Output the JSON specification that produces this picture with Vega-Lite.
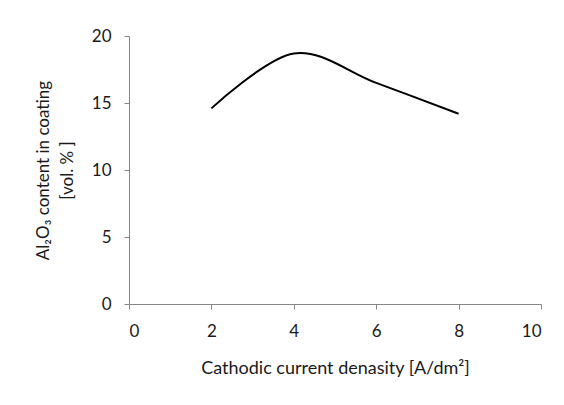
{
  "$schema": "https://vega.github.io/schema/vega-lite/v6.json",
  "width": 412,
  "height": 268,
  "autosize": {"type": "none"},
  "padding": {"left": 129, "top": 36, "right": 23, "bottom": 101},
  "background": "white",
  "config": {
    "view": {"stroke": null},
    "font": "Lato",
    "axis": {
      "grid": false,
      "domainColor": "#868686",
      "tickColor": "#868686",
      "tickSize": 5,
      "labelFont": "Lato",
      "labelFontSize": 17,
      "labelColor": "#1a1a1a",
      "titleFont": "Lato",
      "titleFontSize": 16,
      "titleFontWeight": "normal",
      "titleColor": "#1a1a1a"
    }
  },
  "data": {
    "values": [
      {"x": 2, "y": 14.6},
      {"x": 4, "y": 18.7},
      {"x": 6, "y": 16.5},
      {"x": 8, "y": 14.2}
    ]
  },
  "mark": {"type": "line", "color": "#000000", "strokeWidth": 2, "interpolate": "cardinal"},
  "encoding": {
    "x": {
      "field": "x",
      "type": "quantitative",
      "scale": {"domain": [0, 10], "nice": false},
      "axis": {"values": [0, 2, 4, 6, 8, 10], "labelPadding": 14, "title": "Cathodic current denasity [A/dm²]", "titleFontSize": 18, "titlePadding": 20}
    },
    "y": {
      "field": "y",
      "type": "quantitative",
      "scale": {"domain": [0, 20], "nice": false},
      "axis": {"values": [0, 5, 10, 15, 20], "labelPadding": 13, "title": ["Al₂O₃ content in coating", "[vol. % ]"], "titleFontSize": 17, "titlePadding": 15, "titleLineHeight": 24}
    }
  }
}
